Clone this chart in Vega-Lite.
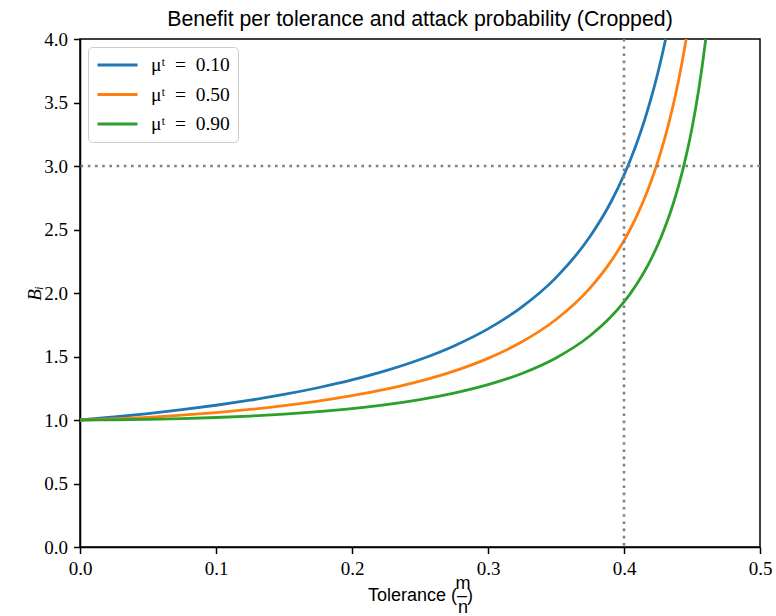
{
  "$schema": "https://vega.github.io/schema/vega-lite/v6.json",
  "width": 680,
  "height": 508,
  "autosize": {"type": "none"},
  "padding": {"left": 80, "top": 39, "right": 16, "bottom": 69},
  "background": "white",
  "title": {
    "text": "Benefit per tolerance and attack probability (Cropped)",
    "font": "Liberation Sans",
    "fontSize": 21.3,
    "fontWeight": "normal",
    "color": "black",
    "anchor": "middle",
    "frame": "group",
    "offset": 0
  },
  "config": {
    "view": {"stroke": "black", "strokeWidth": 1.5},
    "axis": {
      "domainColor": "black",
      "domainWidth": 1.5,
      "tickColor": "black",
      "tickWidth": 1.5,
      "tickSize": 6.5,
      "labelFont": "Liberation Serif",
      "labelFontSize": 19,
      "labelColor": "black",
      "labelFlush": false,
      "labelOverlap": false,
      "grid": false,
      "titleColor": "black",
      "titleFontWeight": "normal"
    },
    "legend": {
      "symbolType": "stroke",
      "symbolSize": 1600,
      "symbolStrokeWidth": 2.8,
      "clipHeight": 20,
      "rowPadding": 9.5,
      "padding": 8,
      "labelOffset": 12,
      "labelFont": "Liberation Serif",
      "labelFontSize": 19.5,
      "labelColor": "black",
      "labelLimit": 0,
      "fillColor": "white",
      "strokeColor": "#cccccc",
      "strokeWidth": 1,
      "cornerRadius": 4
    }
  },
  "datasets": {
    "curves": [
      {"x": 0, "B": 1, "series": "μᵗ\u2002=\u20020.10"},
      {"x": 0.025, "B": 1.0235, "series": "μᵗ\u2002=\u20020.10"},
      {"x": 0.05, "B": 1.0506, "series": "μᵗ\u2002=\u20020.10"},
      {"x": 0.075, "B": 1.0813, "series": "μᵗ\u2002=\u20020.10"},
      {"x": 0.1, "B": 1.1161, "series": "μᵗ\u2002=\u20020.10"},
      {"x": 0.125, "B": 1.1557, "series": "μᵗ\u2002=\u20020.10"},
      {"x": 0.15, "B": 1.2012, "series": "μᵗ\u2002=\u20020.10"},
      {"x": 0.175, "B": 1.2539, "series": "μᵗ\u2002=\u20020.10"},
      {"x": 0.2, "B": 1.3155, "series": "μᵗ\u2002=\u20020.10"},
      {"x": 0.225, "B": 1.3884, "series": "μᵗ\u2002=\u20020.10"},
      {"x": 0.25, "B": 1.4761, "series": "μᵗ\u2002=\u20020.10"},
      {"x": 0.275, "B": 1.5834, "series": "μᵗ\u2002=\u20020.10"},
      {"x": 0.3, "B": 1.7177, "series": "μᵗ\u2002=\u20020.10"},
      {"x": 0.325, "B": 1.8906, "series": "μᵗ\u2002=\u20020.10"},
      {"x": 0.35, "B": 2.1212, "series": "μᵗ\u2002=\u20020.10"},
      {"x": 0.375, "B": 2.4445, "series": "μᵗ\u2002=\u20020.10"},
      {"x": 0.39, "B": 2.7087, "series": "μᵗ\u2002=\u20020.10"},
      {"x": 0.4, "B": 2.9289, "series": "μᵗ\u2002=\u20020.10"},
      {"x": 0.405, "B": 3.0571, "series": "μᵗ\u2002=\u20020.10"},
      {"x": 0.41, "B": 3.1985, "series": "μᵗ\u2002=\u20020.10"},
      {"x": 0.415, "B": 3.3575, "series": "μᵗ\u2002=\u20020.10"},
      {"x": 0.42, "B": 3.5356, "series": "μᵗ\u2002=\u20020.10"},
      {"x": 0.425, "B": 3.738, "series": "μᵗ\u2002=\u20020.10"},
      {"x": 0.43, "B": 3.969, "series": "μᵗ\u2002=\u20020.10"},
      {"x": 0.435, "B": 4.2352, "series": "μᵗ\u2002=\u20020.10"},
      {"x": 0, "B": 1, "series": "μᵗ\u2002=\u20020.50"},
      {"x": 0.025, "B": 1.008, "series": "μᵗ\u2002=\u20020.50"},
      {"x": 0.05, "B": 1.0209, "series": "μᵗ\u2002=\u20020.50"},
      {"x": 0.075, "B": 1.0377, "series": "μᵗ\u2002=\u20020.50"},
      {"x": 0.1, "B": 1.0582, "series": "μᵗ\u2002=\u20020.50"},
      {"x": 0.125, "B": 1.083, "series": "μᵗ\u2002=\u20020.50"},
      {"x": 0.15, "B": 1.1127, "series": "μᵗ\u2002=\u20020.50"},
      {"x": 0.175, "B": 1.1483, "series": "μᵗ\u2002=\u20020.50"},
      {"x": 0.2, "B": 1.1911, "series": "μᵗ\u2002=\u20020.50"},
      {"x": 0.225, "B": 1.2428, "series": "μᵗ\u2002=\u20020.50"},
      {"x": 0.25, "B": 1.3064, "series": "μᵗ\u2002=\u20020.50"},
      {"x": 0.275, "B": 1.3853, "series": "μᵗ\u2002=\u20020.50"},
      {"x": 0.3, "B": 1.4855, "series": "μᵗ\u2002=\u20020.50"},
      {"x": 0.325, "B": 1.6157, "series": "μᵗ\u2002=\u20020.50"},
      {"x": 0.35, "B": 1.7912, "series": "μᵗ\u2002=\u20020.50"},
      {"x": 0.375, "B": 2.0389, "series": "μᵗ\u2002=\u20020.50"},
      {"x": 0.39, "B": 2.2428, "series": "μᵗ\u2002=\u20020.50"},
      {"x": 0.4, "B": 2.4127, "series": "μᵗ\u2002=\u20020.50"},
      {"x": 0.405, "B": 2.5117, "series": "μᵗ\u2002=\u20020.50"},
      {"x": 0.41, "B": 2.6212, "series": "μᵗ\u2002=\u20020.50"},
      {"x": 0.415, "B": 2.7444, "series": "μᵗ\u2002=\u20020.50"},
      {"x": 0.42, "B": 2.8824, "series": "μᵗ\u2002=\u20020.50"},
      {"x": 0.425, "B": 3.0396, "series": "μᵗ\u2002=\u20020.50"},
      {"x": 0.43, "B": 3.2191, "series": "μᵗ\u2002=\u20020.50"},
      {"x": 0.435, "B": 3.4264, "series": "μᵗ\u2002=\u20020.50"},
      {"x": 0.44, "B": 3.6674, "series": "μᵗ\u2002=\u20020.50"},
      {"x": 0.445, "B": 3.9543, "series": "μᵗ\u2002=\u20020.50"},
      {"x": 0.45, "B": 4.2972, "series": "μᵗ\u2002=\u20020.50"},
      {"x": 0, "B": 1, "series": "μᵗ\u2002=\u20020.90"},
      {"x": 0.025, "B": 1.0014, "series": "μᵗ\u2002=\u20020.90"},
      {"x": 0.05, "B": 1.005, "series": "μᵗ\u2002=\u20020.90"},
      {"x": 0.075, "B": 1.011, "series": "μᵗ\u2002=\u20020.90"},
      {"x": 0.1, "B": 1.0195, "series": "μᵗ\u2002=\u20020.90"},
      {"x": 0.125, "B": 1.0311, "series": "μᵗ\u2002=\u20020.90"},
      {"x": 0.15, "B": 1.0461, "series": "μᵗ\u2002=\u20020.90"},
      {"x": 0.175, "B": 1.0654, "series": "μᵗ\u2002=\u20020.90"},
      {"x": 0.2, "B": 1.0899, "series": "μᵗ\u2002=\u20020.90"},
      {"x": 0.225, "B": 1.121, "series": "μᵗ\u2002=\u20020.90"},
      {"x": 0.25, "B": 1.1606, "series": "μᵗ\u2002=\u20020.90"},
      {"x": 0.275, "B": 1.2116, "series": "μᵗ\u2002=\u20020.90"},
      {"x": 0.3, "B": 1.2782, "series": "μᵗ\u2002=\u20020.90"},
      {"x": 0.325, "B": 1.3667, "series": "μᵗ\u2002=\u20020.90"},
      {"x": 0.35, "B": 1.4885, "series": "μᵗ\u2002=\u20020.90"},
      {"x": 0.375, "B": 1.6632, "series": "μᵗ\u2002=\u20020.90"},
      {"x": 0.39, "B": 1.8084, "series": "μᵗ\u2002=\u20020.90"},
      {"x": 0.4, "B": 1.9304, "series": "μᵗ\u2002=\u20020.90"},
      {"x": 0.405, "B": 2.0014, "series": "μᵗ\u2002=\u20020.90"},
      {"x": 0.41, "B": 2.0805, "series": "μᵗ\u2002=\u20020.90"},
      {"x": 0.415, "B": 2.1692, "series": "μᵗ\u2002=\u20020.90"},
      {"x": 0.42, "B": 2.2694, "series": "μᵗ\u2002=\u20020.90"},
      {"x": 0.425, "B": 2.3829, "series": "μᵗ\u2002=\u20020.90"},
      {"x": 0.43, "B": 2.5136, "series": "μᵗ\u2002=\u20020.90"},
      {"x": 0.435, "B": 2.6634, "series": "μᵗ\u2002=\u20020.90"},
      {"x": 0.44, "B": 2.8394, "series": "μᵗ\u2002=\u20020.90"},
      {"x": 0.445, "B": 3.0484, "series": "μᵗ\u2002=\u20020.90"},
      {"x": 0.45, "B": 3.2979, "series": "μᵗ\u2002=\u20020.90"},
      {"x": 0.455, "B": 3.6058, "series": "μᵗ\u2002=\u20020.90"},
      {"x": 0.46, "B": 3.9903, "series": "μᵗ\u2002=\u20020.90"},
      {"x": 0.465, "B": 4.4827, "series": "μᵗ\u2002=\u20020.90"}
    ]
  },
  "layer": [
    {
      "data": {"name": "curves"},
      "mark": {"type": "line", "clip": true, "strokeWidth": 2.8, "interpolate": "monotone"},
      "encoding": {
        "x": {
          "field": "x",
          "type": "quantitative",
          "scale": {"domain": [0, 0.5], "nice": false},
          "axis": {
            "values": [0, 0.1, 0.2, 0.3, 0.4, 0.5],
            "format": ".1f",
            "labelPadding": 5.5,
            "title": [
              "\u200b\u00a0\u00a0\u00a0\u00a0\u00a0\u00a0\u00a0\u00a0\u00a0\u00a0\u00a0\u00a0\u00a0\u00a0\u00a0\u00a0\u00a0m",
              "Tolerance (\u2013)",
              "\u200b\u00a0\u00a0\u00a0\u00a0\u00a0\u00a0\u00a0\u00a0\u00a0\u00a0\u00a0\u00a0\u00a0\u00a0\u00a0\u00a0\u00a0n"
            ],
            "titleFont": "Liberation Sans",
            "titleFontSize": 18,
            "titleLineHeight": 12,
            "titlePadding": -4
          }
        },
        "y": {
          "field": "B",
          "type": "quantitative",
          "scale": {"domain": [0, 4], "nice": false},
          "axis": {
            "values": [0, 0.5, 1, 1.5, 2, 2.5, 3, 3.5, 4],
            "format": ".1f",
            "labelPadding": 6,
            "title": "Bᵢ",
            "titleFont": "Liberation Serif",
            "titleFontStyle": "italic",
            "titleFontSize": 19,
            "titlePadding": -1
          }
        },
        "color": {
          "field": "series",
          "type": "nominal",
          "scale": {
            "domain": ["μᵗ\u2002=\u20020.10", "μᵗ\u2002=\u20020.50", "μᵗ\u2002=\u20020.90"],
            "range": ["#1f77b4", "#ff7f0e", "#2ca02c"]
          },
          "legend": {"title": null, "orient": "top-left", "offset": 8}
        }
      }
    },
    {
      "data": {"values": [{}]},
      "mark": {"type": "rule", "color": "#808080", "strokeWidth": 2.6, "strokeDash": [2.6, 4.6]},
      "encoding": {"x": {"datum": 0.4, "type": "quantitative"}}
    },
    {
      "data": {"values": [{}]},
      "mark": {"type": "rule", "color": "#808080", "strokeWidth": 2.6, "strokeDash": [2.6, 4.6]},
      "encoding": {"y": {"datum": 3, "type": "quantitative"}}
    }
  ]
}
